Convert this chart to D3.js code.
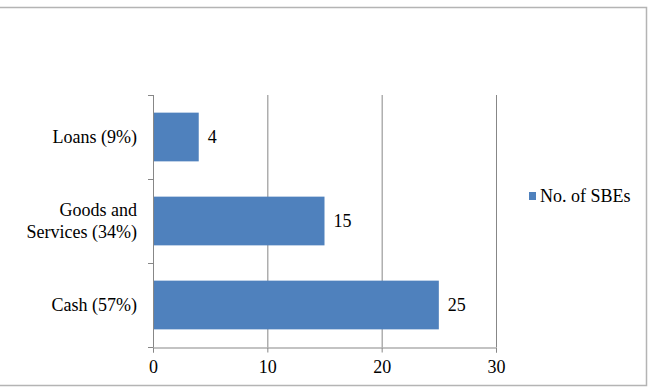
<!DOCTYPE html>
<html>
<head>
<meta charset="utf-8">
<script src="https://cdn.jsdelivr.net/npm/d3@7"></script>
<style>
  body { margin: 0; background: #fff; }
</style>
</head>
<body>
<div id="chart"></div>
<script>
// chart data
var categories = ["Cash (57%)", "Goods and\nServices (34%)", "Loans (9%)"]
var values     = [25, 15, 4]
var xTicks     = [0, 10, 20, 30]
var seriesName = "No. of SBEs"

var width  = 649
var height = 388
var serif  = "'Liberation Serif', 'Times New Roman', serif"

var svg = d3.select("#chart")
    .append("svg")
    .attr("width", width)
    .attr("height", height)

// outer frame (no left edge in the picture)
svg.append("path")
    .attr("d", "M0,7.5 H646.5 V385.5 H0")
    .attr("fill", "none")
    .attr("stroke", "#b4b4b4")
    .attr("stroke-width", 1.5)

var scaleX = d3.scaleLinear()
    .domain([0, 30])
    .range([153, 496])

// bottom to top: Cash at the bottom
var scaleY = d3.scaleBand()
    .domain(categories.slice().reverse())
    .range([95, 347])
    .paddingInner(0.42)
    .paddingOuter(0.21)

var grey = "#878787"

// vertical gridlines
svg.selectAll("line.grid")
    .data(xTicks.slice(1))
    .enter()
    .append("line")
    .attr("class", "grid")
    .attr("x1", function (d) { return scaleX(d) + 0.5 })
    .attr("x2", function (d) { return scaleX(d) + 0.5 })
    .attr("y1", 95)
    .attr("y2", 347)
    .attr("stroke", grey)

// x axis
var xAxis = svg.append("g")
    .attr("transform", "translate(0,347.5)")
    .call(d3.axisBottom(scaleX).tickValues(xTicks).tickSize(5).tickPadding(8))
xAxis.select(".domain").attr("stroke", grey)
xAxis.selectAll(".tick line").attr("stroke", grey)
xAxis.selectAll("text")
    .style("font-size", "18px")
    .style("font-family", serif)
    .attr("fill", "#000")

// y axis: line plus ticks between categories
var yAxis = svg.append("g")
yAxis.append("line")
    .attr("x1", 153.5).attr("x2", 153.5)
    .attr("y1", 95).attr("y2", 347)
    .attr("stroke", grey)
var bandEdges = d3.range(categories.length + 1).map(function (i) {
    return 95 + i * (347 - 95) / categories.length
})
yAxis.selectAll("line.ytick")
    .data(bandEdges)
    .enter()
    .append("line")
    .attr("class", "ytick")
    .attr("x1", 148).attr("x2", 153.5)
    .attr("y1", function (d) { return Math.round(d) + 0.5 })
    .attr("y2", function (d) { return Math.round(d) + 0.5 })
    .attr("stroke", grey)

// bars
svg.selectAll("rect.bar")
    .data(values)
    .enter()
    .append("rect")
    .attr("class", "bar")
    .attr("x", scaleX(0) + 1)
    .attr("y", function (d, i) { return scaleY(categories[i]) })
    .attr("width", function (d) { return scaleX(d) - scaleX(0) - 1 })
    .attr("height", scaleY.bandwidth())
    .attr("fill", "#4f81bd")

// value labels
svg.selectAll("text.val")
    .data(values)
    .enter()
    .append("text")
    .attr("class", "val")
    .attr("x", function (d) { return scaleX(d) + 9 })
    .attr("y", function (d, i) { return scaleY(categories[i]) + scaleY.bandwidth() / 2 })
    .attr("dy", "0.35em")
    .style("font-family", serif)
    .style("font-size", "18px")
    .text(function (d) { return d })

// category labels (multi-line)
categories.forEach(function (c) {
    var lines = c.split("\n")
    var cy = scaleY(c) + scaleY.bandwidth() / 2
    var t = svg.append("text")
        .attr("text-anchor", "end")
        .style("font-family", serif)
        .style("font-size", "18px")
    lines.forEach(function (l, j) {
        t.append("tspan")
            .attr("x", 137)
            .attr("y", cy + (j - (lines.length - 1) / 2) * 22)
            .attr("dy", "0.35em")
            .text(l)
    })
})

// legend
svg.append("rect")
    .attr("x", 529)
    .attr("y", 192)
    .attr("width", 7)
    .attr("height", 8)
    .attr("fill", "#4f81bd")
svg.append("text")
    .attr("x", 540)
    .attr("y", 196)
    .attr("dy", "0.35em")
    .style("font-family", serif)
    .style("font-size", "18px")
    .text(seriesName)
</script>
</body>
</html>
